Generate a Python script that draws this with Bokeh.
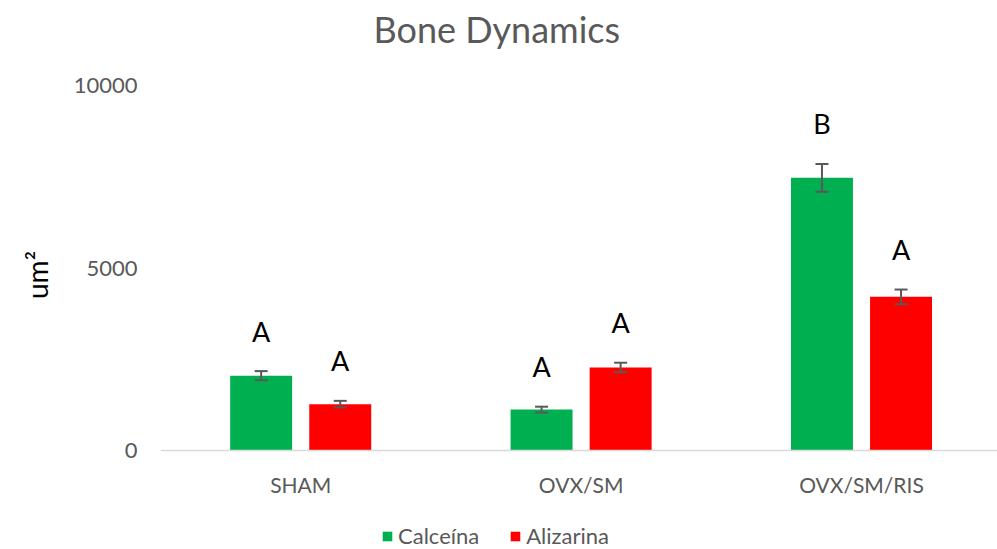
from bokeh.plotting import figure
from bokeh.models import (ColumnDataSource, Range1d, FixedTicker, Whisker, TeeHead,
                          Legend, LegendItem, Label)
from bokeh.core.properties import value
from bokeh.embed import file_html
from bokeh.resources import INLINE

categories = ["SHAM", "OVX/SM", "OVX/SM/RIS"]
series = ["Calceína", "Alizarina"]
calceina = [2050, 1120, 7470]
calceina_err = [125, 80, 380]
alizarina = [1270, 2275, 4210]
alizarina_err = [90, 130, 200]
calceina_letters = ["A", "A", "B"]
alizarina_letters = ["A", "A", "A"]
y_ticks = [0, 5000, 10000]
title_text = "Bone Dynamics"

GREEN = "#00B050"
RED = "#FF0000"
GRAY = "#595959"
FONT = "Lato"

# frame covers the whole canvas height; value axis scale: 365 px per 10000
PX_PER_UNIT = 365 / 10000
FRAME_H = 549
ZERO_PX_FROM_TOP = 450
y_top = ZERO_PX_FROM_TOP / PX_PER_UNIT
y_bot = y_top - FRAME_H / PX_PER_UNIT

p = figure(frame_width=837, frame_height=FRAME_H, output_backend="svg", toolbar_location=None,
           x_range=Range1d(0, 2.985), y_range=Range1d(y_bot, y_top),
           min_border_left=160, min_border_right=0, min_border_top=0,
           min_border_bottom=0)
p.outline_line_color = None
p.xgrid.grid_line_color = None
p.ygrid.grid_line_color = None

centers = [i + 0.5 for i in range(len(categories))]
dodge = 0.141
bw = 0.221

src_c = ColumnDataSource(dict(x=[c - dodge for c in centers], top=calceina,
                              lo=[v - e for v, e in zip(calceina, calceina_err)],
                              hi=[v + e for v, e in zip(calceina, calceina_err)],
                              lab=calceina_letters))
src_a = ColumnDataSource(dict(x=[c + dodge for c in centers], top=alizarina,
                              lo=[v - e for v, e in zip(alizarina, alizarina_err)],
                              hi=[v + e for v, e in zip(alizarina, alizarina_err)],
                              lab=alizarina_letters))

r_c = p.vbar(x="x", top="top", bottom=0, width=bw, source=src_c, fill_color=GREEN, line_color=None)
r_a = p.vbar(x="x", top="top", bottom=0, width=bw, source=src_a, fill_color=RED, line_color=None)

for src in (src_c, src_a):
    w = Whisker(base="x", lower="lo", upper="hi", source=src,
                line_color=GRAY, line_width=2, level="overlay",
                upper_head=TeeHead(size=13, line_color=GRAY, line_width=2),
                lower_head=TeeHead(size=13, line_color=GRAY, line_width=2))
    p.add_layout(w)
    p.text(x="x", y="hi", text="lab", source=src, text_align="center",
           text_baseline="middle", y_offset=-40, text_color="black",
           text_font=value(FONT), text_font_size="27px")

# x axis, fixed at value 0
p.xaxis.fixed_location = 0
p.xaxis.ticker = FixedTicker(ticks=centers)
p.xaxis.major_label_overrides = {c: n for c, n in zip(centers, categories)}
p.xaxis.axis_line_color = "#D9D9D9"
p.xaxis.axis_line_width = 1.5
p.xaxis.major_tick_line_color = None
p.xaxis.minor_tick_line_color = None
p.xaxis.major_label_text_color = GRAY
p.xaxis.major_label_text_font = FONT
p.xaxis.major_label_text_font_size = "21px"
p.xaxis.major_label_standoff = 15

# y axis
p.yaxis.ticker = FixedTicker(ticks=y_ticks)
p.yaxis.axis_line_color = None
p.yaxis.major_tick_line_color = None
p.yaxis.minor_tick_line_color = None
p.yaxis.major_label_text_color = GRAY
p.yaxis.major_label_text_font = FONT
p.yaxis.major_label_text_font_size = "22px"
p.yaxis.major_label_standoff = 17
p.yaxis.axis_label = "um²"
p.yaxis.axis_label_text_font = FONT
p.yaxis.axis_label_text_font_style = "normal"
p.yaxis.axis_label_text_font_size = "28px"
p.yaxis.axis_label_text_color = "black"
p.yaxis.axis_label_standoff = 17

# title (screen units relative to the frame's bottom-left)
p.add_layout(Label(x=213, y=FRAME_H - 28, x_units="screen", y_units="screen",
                   text=title_text, text_font=FONT, text_font_size="36px",
                   text_color=GRAY, text_baseline="middle", text_align="left"))

legend = Legend(items=[LegendItem(label=series[0], renderers=[r_c]),
                       LegendItem(label=series[1], renderers=[r_a])],
                orientation="horizontal", location=(221, 0),
                label_text_font=FONT, label_text_font_size="22px",
                label_text_color=GRAY, glyph_width=12, glyph_height=12,
                spacing=30, border_line_color=None, background_fill_alpha=0,
                label_standoff=5, padding=0, margin=0)
p.add_layout(legend, "center")

open("out.html", "w").write(file_html(p, INLINE))
